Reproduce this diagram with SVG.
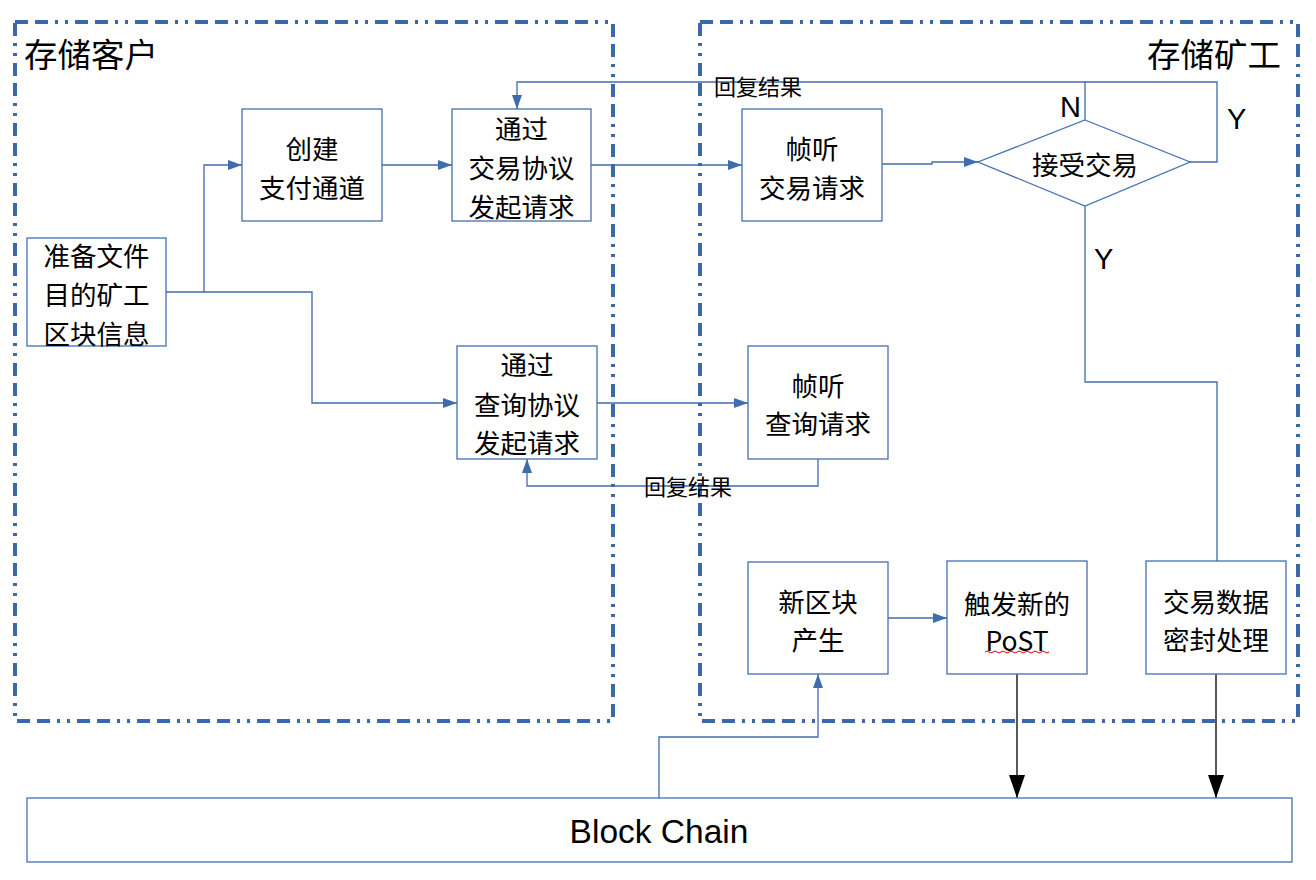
<svg xmlns="http://www.w3.org/2000/svg" width="1316" height="880" viewBox="0 0 1316 880">
<defs>
<style>
.zone{fill:none;stroke:#3b68a9;stroke-width:4;stroke-dasharray:13 7 13 7 3 7 3 7}
.box{fill:#fff;stroke:#4570b0;stroke-width:1.3}
.t{font-family:"Noto Sans CJK SC","Liberation Sans",sans-serif;font-size:26.5px;fill:#000;text-anchor:middle;dominant-baseline:central}
.lt{font-family:"Liberation Sans","Noto Sans CJK SC",sans-serif;fill:#000;dominant-baseline:central}
.lbl{font-family:"Noto Sans CJK SC","Liberation Sans",sans-serif;font-size:22px;fill:#000;dominant-baseline:central}
.title{font-family:"Noto Sans CJK SC","Liberation Sans",sans-serif;font-size:33.5px;fill:#000;dominant-baseline:central}
.c{fill:none;stroke:#3f6cae;stroke-width:1.3}
.cb{fill:none;stroke:#000;stroke-width:1.3}
</style>
<marker id="ab" viewBox="0 0 14 10" refX="14" refY="5" markerWidth="14" markerHeight="10" markerUnits="userSpaceOnUse" orient="auto">
<path d="M0,0 L14,5 L0,10 Z" fill="#3f6cae"/>
</marker>
<marker id="ak" viewBox="0 0 23 16" refX="23" refY="8" markerWidth="23" markerHeight="16" markerUnits="userSpaceOnUse" orient="auto">
<path d="M0,0 L23,8 L0,16 Z" fill="#000"/>
</marker>
</defs>
<rect width="1316" height="880" fill="#fff"/>

<g id="zone-client">
<rect class="zone" x="15" y="22" width="598" height="699"/>
<text class="title" x="24" y="52">存储客户</text>
</g>
<g id="zone-miner">
<rect class="zone" x="700" y="22" width="598" height="699"/>
<text class="title" x="1281" y="52" text-anchor="end">存储矿工</text>
</g>

<g id="connectors">
<path class="c" d="M166,292 H204 V165 H242" marker-end="url(#ab)"/>
<path class="c" d="M204,292 H312 V403 H457" marker-end="url(#ab)"/>
<path class="c" d="M382,165 H452" marker-end="url(#ab)"/>
<path class="c" d="M591,165 H742" marker-end="url(#ab)"/>
<path class="c" d="M882,164 H932 V162 H978" marker-end="url(#ab)"/>
<path class="c" d="M1085,120 V82 H517 V109" marker-end="url(#ab)"/>
<path class="c" d="M1190,162 H1217 V82 H1085"/>
<path class="c" d="M1085,206 V382 H1217 V561"/>
<path class="c" d="M597,403 H748" marker-end="url(#ab)"/>
<path class="c" d="M818,459 V486 H527 V459" marker-end="url(#ab)"/>
<path class="c" d="M888,618 H947" marker-end="url(#ab)"/>
<path class="c" d="M659,798 V737 H818 V674" marker-end="url(#ab)"/>
<path class="cb" d="M1017,674 V798" marker-end="url(#ak)"/>
<path class="cb" d="M1216,674 V798" marker-end="url(#ak)"/>
<text class="lbl" x="714" y="85">回复结果</text>
<text class="lbl" x="644" y="485">回复结果</text>
<text class="lt" x="1060" y="107" font-size="29">N</text>
<text class="lt" x="1227" y="119" font-size="29">Y</text>
<text class="lt" x="1094" y="259" font-size="29">Y</text>
</g>

<g id="prepare">
<rect class="box" x="27" y="238" width="139" height="108"/>
<text class="t" x="96.5" y="254">准备文件</text>
<text class="t" x="96.5" y="293">目的矿工</text>
<text class="t" x="96.5" y="332">区块信息</text>
</g>
<g id="create-channel">
<rect class="box" x="242" y="109" width="140" height="112"/>
<text class="t" x="312" y="147">创建</text>
<text class="t" x="312" y="186">支付通道</text>
</g>
<g id="trade-request">
<rect class="box" x="452" y="109" width="139" height="112"/>
<text class="t" x="521.5" y="127">通过</text>
<text class="t" x="521.5" y="166">交易协议</text>
<text class="t" x="521.5" y="205">发起请求</text>
</g>
<g id="listen-trade">
<rect class="box" x="742" y="109" width="140" height="112"/>
<text class="t" x="812" y="147">帧听</text>
<text class="t" x="812" y="186">交易请求</text>
</g>
<g id="accept-trade">
<polygon class="box" points="1085,120 1190,162 1085,206 978,162"/>
<text class="t" x="1085" y="163">接受交易</text>
</g>
<g id="query-request">
<rect class="box" x="457" y="346" width="140" height="113"/>
<text class="t" x="527" y="363">通过</text>
<text class="t" x="527" y="403">查询协议</text>
<text class="t" x="527" y="441">发起请求</text>
</g>
<g id="listen-query">
<rect class="box" x="748" y="346" width="140" height="113"/>
<text class="t" x="818" y="384">帧听</text>
<text class="t" x="818" y="422">查询请求</text>
</g>
<g id="new-block">
<rect class="box" x="748" y="562" width="140" height="112"/>
<text class="t" x="818" y="600">新区块</text>
<text class="t" x="818" y="638">产生</text>
</g>
<g id="trigger-post">
<rect class="box" x="947" y="561" width="140" height="113"/>
<text class="t" x="1017" y="602">触发新的</text>
<text class="t" x="1017" y="639" font-family="Liberation Sans, sans-serif">PoST</text>
<path d="M985,652 q2,-2 4,0 t4,0 t4,0 t4,0 t4,0 t4,0 t4,0 t4,0 t4,0 t4,0 t4,0 t4,0 t4,0 t4,0 t4,0 t4,0" fill="none" stroke="#e00000" stroke-width="1"/>
</g>
<g id="seal-data">
<rect class="box" x="1146" y="561" width="140" height="113"/>
<text class="t" x="1216" y="600">交易数据</text>
<text class="t" x="1216" y="638">密封处理</text>
</g>
<g id="blockchain">
<rect class="box" x="27" y="798" width="1265" height="64"/>
<text class="lt" x="659" y="831" font-size="33.5" text-anchor="middle">Block Chain</text>
</g>
</svg>
